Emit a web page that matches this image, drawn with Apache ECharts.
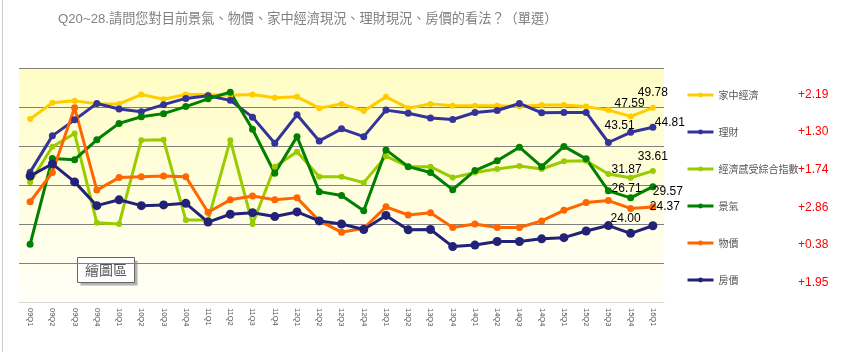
<!DOCTYPE html>
<html>
<head>
<meta charset="utf-8">
<title>Q20~28</title>
<script src="https://cdn.jsdelivr.net/npm/echarts@6/dist/echarts.min.js"></script>
<style>
    html, body { margin: 0; padding: 0; background: #fff; }
    #chart { width: 843px; height: 352px; }
</style>
</head>
<body>
<div id="chart"></div>
<script>
// 季度
var categories = ['09Q1', '09Q2', '09Q3', '09Q4', '10Q1', '10Q2', '10Q3', '10Q4',
    '11Q1', '11Q2', '11Q3', '11Q4', '12Q1', '12Q2', '12Q3', '12Q4',
    '13Q1', '13Q2', '13Q3', '13Q4', '14Q1', '14Q2', '14Q3', '14Q4',
    '15Q1', '15Q2', '15Q3', '15Q4', '16Q1'];

// 各指標數值
var homeEconomy = [46.9, 51.1, 51.6, 50.8, 50.8, 53.2, 52.0, 53.2, 53.2, 53.0, 53.2, 52.4, 52.6, 49.7, 50.8,
    49.0, 52.6, 49.7, 50.8, 50.3, 50.3, 50.3, 50.1, 50.5, 50.5, 50.1, 49.2, 47.59, 49.78];
var finance = [33.3, 42.6, 46.7, 50.9, 49.5, 48.8, 50.6, 52.2, 52.9, 51.7, 47.4, 40.7, 48.0, 41.3, 44.4,
    42.4, 49.2, 48.4, 47.2, 46.8, 48.6, 49.1, 50.9, 48.5, 48.6, 48.6, 40.9, 43.51, 44.81];
var feelingIndex = [30.7, 39.8, 43.2, 20.3, 20.0, 41.5, 41.6, 21.0, 21.0, 41.5, 20.0, 34.7, 38.5, 32.1, 32.1,
    30.6, 37.4, 34.7, 34.7, 31.9, 33.2, 34.1, 34.9, 34.1, 36.1, 36.2, 32.8, 31.87, 33.61];
var economy = [14.8, 36.8, 36.5, 41.6, 45.8, 47.5, 48.3, 50.1, 52.1, 53.8, 44.3, 33.0, 42.4, 28.3, 27.3,
    23.4, 39.0, 34.7, 33.2, 28.8, 33.7, 36.2, 39.7, 34.7, 39.9, 36.7, 28.5, 26.71, 29.57];
var prices = [25.7, 33.2, 49.8, 28.7, 31.9, 32.1, 32.3, 32.1, 23.0, 26.2, 27.2, 26.2, 26.7, 20.8, 17.9,
    18.9, 24.4, 22.3, 22.9, 19.1, 20.0, 19.1, 19.1, 20.8, 23.5, 25.5, 26.0, 24.00, 24.37];
var housing = [32.3, 35.4, 30.8, 24.7, 26.2, 24.7, 24.9, 25.3, 20.5, 22.5, 22.9, 21.9, 23.1, 20.8, 20.0,
    18.6, 22.2, 18.5, 18.6, 14.2, 14.6, 15.5, 15.5, 16.2, 16.5, 18.2, 19.6, 17.6, 19.55];

// 圖例名稱與右側變化值
var seriesNames = ['家中經濟', '理財', '經濟感受綜合指數', '景氣', '物價', '房價'];
var changeLabels = ['+2.19', '+1.30', '+1.74', '+2.86', '+0.38', '+1.95'];

var myChart = echarts.init(document.getElementById('chart'));

var colors = ['#FFCC00', '#333399', '#99CC00', '#008000', '#FF6600', '#222277'];
var symbolSizes = [6, 7, 6, 7, 7, 9];

// 最後兩季的數據標籤位置 (相對於點)
var labelOffsets = [
    [[-1, -13], [0, -15]],
    [[-11, -7], [17, -5]],
    [[-4, -8], [0, -14]],
    [[-4, -9], [15, 5]],
    [[-5, 10], [12, 0]],
    null
];

function buildData(values, idx) {
    var offs = labelOffsets[idx];
    return values.map(function (v, i) {
        var k = i - (values.length - 2);
        if (offs && k >= 0) {
            return {
                value: v,
                label: {
                    show: true,
                    position: 'inside',
                    offset: offs[k],
                    formatter: v.toFixed(2),
                    color: '#000',
                    fontSize: 12,
                    fontFamily: 'Liberation Sans, Arial, sans-serif'
                }
            };
        }
        return v;
    });
}

var allValues = [homeEconomy, finance, feelingIndex, economy, prices, housing];

var series = allValues.map(function (values, idx) {
    return {
        name: seriesNames[idx],
        type: 'line',
        data: buildData(values, idx),
        symbol: 'circle',
        symbolSize: symbolSizes[idx],
        showAllSymbol: true,
        lineStyle: { width: 3, color: colors[idx] },
        itemStyle: { color: colors[idx] },
        label: { show: false },
        emphasis: { disabled: true }
    };
});

// 右側紅色變化值
var graphics = changeLabels.map(function (t, i) {
    return {
        type: 'text',
        left: 798,
        top: 88.5 + i * 37.6,
        style: {
            text: t,
            fill: '#FF0000',
            fontSize: 12,
            fontFamily: 'Liberation Sans, Arial, sans-serif'
        }
    };
});

// 左側邊框
graphics.push({
    type: 'rect',
    shape: { x: 2, y: 0, width: 1, height: 352 },
    style: { fill: '#cccccc' }
});

// 繪圖區 提示框
graphics.push({
    type: 'group',
    left: 77,
    top: 257,
    z: 100,
    children: [
        { type: 'rect', shape: { x: 3, y: 3, width: 57, height: 25 }, style: { fill: '#b4b4b4' } },
        { type: 'rect', shape: { x: 0, y: 0, width: 57, height: 25 }, style: { fill: '#fff', stroke: '#666', lineWidth: 1 } },
        {
            type: 'text', x: 28.5, y: 12.5,
            style: {
                text: '繪圖區', fill: '#555', fontSize: 14,
                fontFamily: 'Noto Sans CJK TC', align: 'center', verticalAlign: 'middle'
            }
        }
    ]
});

var option = {
    animation: false,
    backgroundColor: '#fff',
    title: {
        text: 'Q20~28.請問您對目前景氣、物價、家中經濟現況、理財現況、房價的看法？（單選）',
        left: 53,
        top: 8,
        textStyle: {
            color: '#808080',
            fontSize: 13.2,
            fontWeight: 'normal',
            fontFamily: 'Liberation Sans, Noto Sans CJK TC'
        }
    },
    legend: {
        orient: 'vertical',
        left: 686,
        top: 90,
        padding: 0,
        itemWidth: 26,
        itemHeight: 6,
        itemGap: 27,
        data: seriesNames,
        lineStyle: { width: 3 },
        textStyle: { color: '#555', fontSize: 10, fontFamily: 'Noto Sans CJK TC' },
        selectedMode: false
    },
    grid: {
        left: 19,
        right: 179,
        top: 68,
        bottom: 50,
        show: true,
        borderWidth: 0,
        backgroundColor: new echarts.graphic.LinearGradient(0, 0, 0, 1, [
            { offset: 0, color: '#FFFDC4' },
            { offset: 1, color: '#FFFFF8' }
        ])
    },
    xAxis: {
        type: 'category',
        data: categories,
        boundaryGap: true,
        axisLine: { lineStyle: { color: '#d6d6d6', width: 1 } },
        axisTick: { show: false },
        axisLabel: {
            interval: 0,
            rotate: -90,
            margin: 6,
            fontSize: 7.5,
            color: '#555',
            fontFamily: 'Liberation Sans, Arial, sans-serif'
        }
    },
    yAxis: {
        type: 'value',
        min: 0,
        max: 60,
        interval: 10,
        axisLabel: { show: false },
        axisLine: { show: false },
        axisTick: { show: false },
        splitLine: { lineStyle: { color: '#808080', width: 1 } }
    },
    graphic: graphics,
    series: series
};

myChart.setOption(option);
</script>
</body>
</html>
